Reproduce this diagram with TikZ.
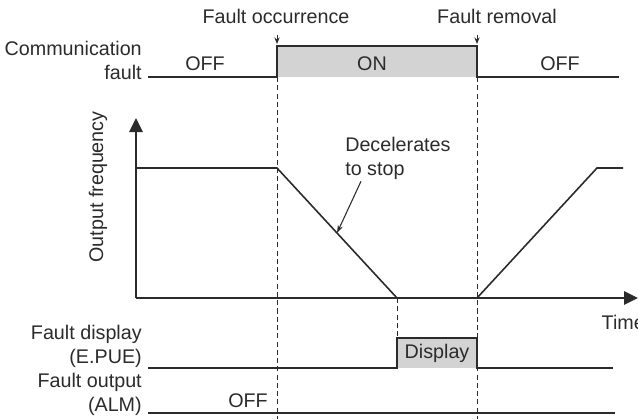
\documentclass[tikz,border=0pt]{standalone}
\usepackage{fontspec}
\setmainfont{Liberation Sans}
\usetikzlibrary{positioning, arrows.meta}
\definecolor{waveDark}{HTML}{2B2B2B}
\definecolor{waveFill}{HTML}{D3D3D3}

\begin{document}
\begin{tikzpicture}[x=0.75pt, y=-0.75pt, font=\fontsize{14.8}{18}\selectfont,
    text=waveDark, line join=miter]
    \useasboundingbox (0,0) rectangle (638,419);
    \tikzset{
      wave/.style={draw=waveDark, line width=1.2pt},
      guide/.style={draw=waveDark, line width=0.7pt, dash pattern=on 3.8pt off 2.4pt},
      sigLabel/.style={anchor=south east, align=right, inner sep=0pt},
      axisArrow/.style={-{Triangle[length=10.5pt, width=10pt]}, draw=waveDark, line width=1.2pt},
      pointer/.style={-{Stealth[length=6pt, width=4pt]}, draw=waveDark, line width=0.8pt}
    }
    % signal names
    \node[sigLabel] (comm) at (142,80) {Communication\\fault};
    \node[sigLabel] (disp) at (142,368) {Fault display\\(E.PUE)};
    \node[sigLabel] (alm) at (142,416) {Fault output\\(ALM)};
    \node[rotate=90] (freq) at (98,187) {Output frequency};

    % events
    \node (occur) at (276,16) {Fault occurrence};
    \node (remove) at (497,16) {Fault removal};
    \coordinate (occurTip) at (277,44);
    \coordinate (removeTip) at (477,44);
    \foreach \a/\b in {occur/occurTip, remove/removeTip}
      \draw[-{Stealth[length=5pt, width=4pt]}, draw=waveDark, line width=0.7pt]
        (\a.south -| \b) ++(0,7) -- (\b);

    % communication fault
    \fill[waveFill] (277,46) rectangle (477,77);
    \draw[wave] (148,77) -- (277,77) -- (277,46) -- (477,46) -- (477,77) -- (619,77);
    \node (off1) at (205,64) {OFF};
    \node (on) at (372,64) {ON};
    \node (off2) at (560,64) {OFF};

    % dashed guides
    \draw[guide] (277,77) -- (277,419);
    \draw[guide] (477,77) -- (477,419);
    \draw[guide] (397,298) -- (397,338);

    % output frequency
    \draw[axisArrow] (136,298) -- (136,118);
    \draw[axisArrow] (136,298) -- (638,298);
    \node[anchor=west] (time) at (597,322) {Time};
    \draw[wave] (136,168) -- (277,168) -- coordinate[pos=0.5] (slopeMid) (397,298);
    \draw[wave] (477,298) -- (597,168) -- (623,168);
    \node[anchor=north west, align=left, inner sep=0pt] (decel) at (345,137) {Decelerates\\to stop};
    \draw[pointer] ([xshift=12pt, yshift=-1pt]decel.south west) -- (slopeMid);

    % fault display
    \fill[waveFill] (397,338) rectangle (477,368);
    \draw[wave] (148,368) -- (397,368) -- (397,338) -- (477,338) -- (477,368) -- (613,368);
    \node (show) at (437,353) {Display};

    % fault output
    \draw[wave] (148,413) -- (615,413);
    \node (offAlm) at (248,401) {OFF};
\end{tikzpicture}
\end{document}
